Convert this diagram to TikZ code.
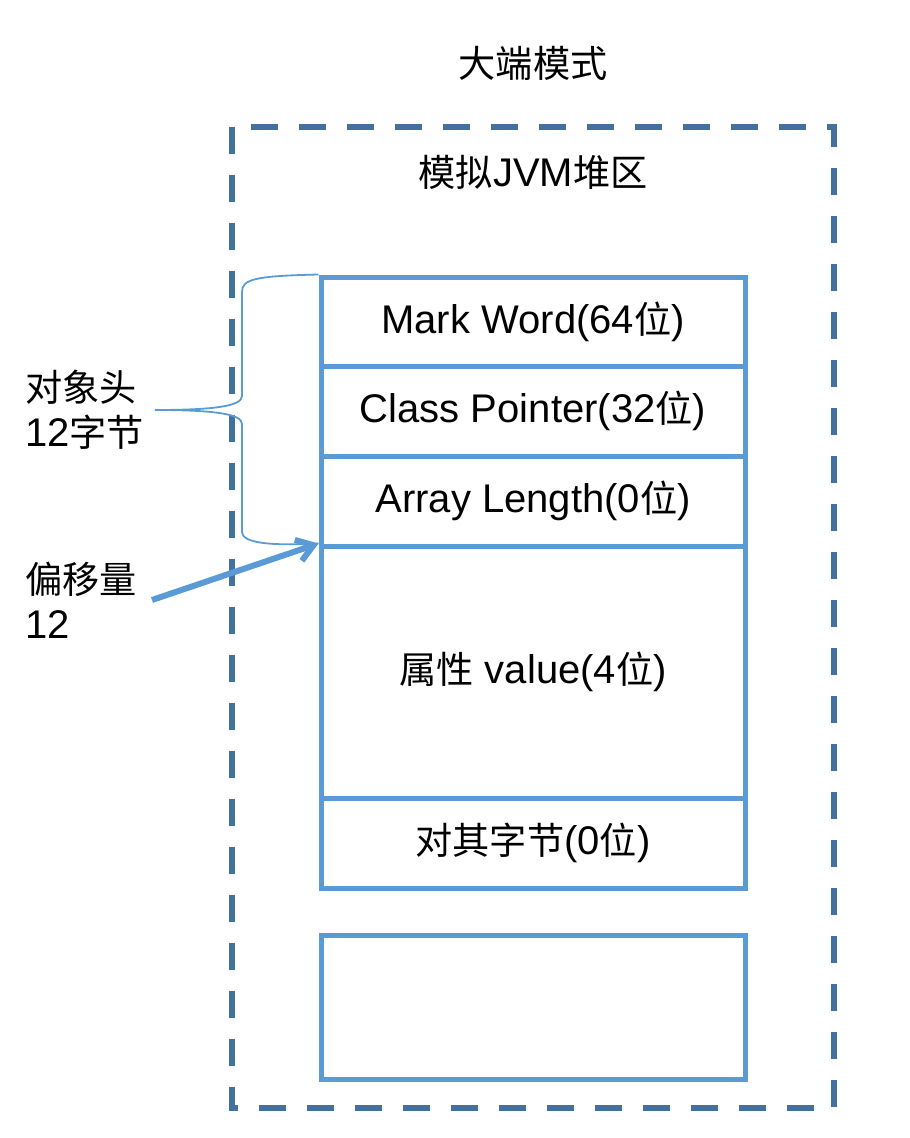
\documentclass[tikz,border=0pt]{standalone}
\usepackage{fontspec}
\setmainfont{Liberation Sans}
\newfontfamily\cjk[Scale=0.93]{Noto Sans CJK SC}
\usetikzlibrary{arrows.meta}
\definecolor{cellblue}{HTML}{5B9BD5}
\definecolor{heapblue}{HTML}{41719C}
\tikzstyle{txt}   = [font=\fontsize{40}{45}\selectfont, inner sep=0pt]
\tikzstyle{cell}  = [txt, draw=cellblue, line width=5pt, minimum width=424pt]
\tikzstyle{heap}  = [draw=heapblue, line width=6.5pt, dash pattern=on 27pt off 21pt]
\tikzstyle{brace} = [draw=cellblue, line width=1.8pt]
\tikzstyle{ptr}   = [draw=cellblue, line width=6pt, -{Straight Barb[length=16pt, width=22pt]}]

\begin{document}
\begin{tikzpicture}[x=1pt, y=-1pt]
\useasboundingbox (0,0) rectangle (910,1138);

% nodes
\node [txt]                      at ( 533 ,   63 )  (mode)   {{\cjk 大端模式}};
\node [txt]                      at ( 533 ,  172 )  (region) {{\cjk 模拟}JVM{\cjk 堆区}};
\node [cell, minimum height=89pt]  at ( 533 ,  321.5 ) (mark)  {Mark Word(64{\cjk 位})};
\node [cell, minimum height=90pt]  at ( 533 ,  411 )  (class)  {Class Pointer(32{\cjk 位})};
\node [cell, minimum height=90pt]  at ( 533 ,  501 )  (array)  {Array Length(0{\cjk 位})};
\node [cell, minimum height=252pt] at ( 533 ,  672 )  (value)  {{\cjk 属性} value(4{\cjk 位})};
\node [cell, minimum height=90pt]  at ( 533 ,  843 )  (pad)    {{\cjk 对其字节}(0{\cjk 位})};
\node [cell, minimum height=144pt] at ( 533 , 1007 )  (spare)  {};
\node [txt, align=left, anchor=west] at ( 25 , 410 ) (header) {{\cjk 对象头}\\12{\cjk 字节}};
\node [txt, align=left, anchor=west] at ( 25 , 600 ) (offset) {{\cjk 偏移量}\\12};
\coordinate (tip)  at ( 155 , 410 );
\coordinate (from) at ( 152 , 600 );

% heap frame
\draw [heap] (232,127) rectangle (834,1108);

% edges
\draw [brace] (mark.north west) .. controls (255,276) and (242,279) .. (242,292)
  -- (242,396) .. controls (242,406) and (215,410) .. (tip)
  .. controls (215,410) and (242,414) .. (242,424)
  -- (242,532) .. controls (242,543) and (270,546) .. (value.north west);

\draw [ptr] (from) -- (value.north west);

\end{tikzpicture}
\end{document}
